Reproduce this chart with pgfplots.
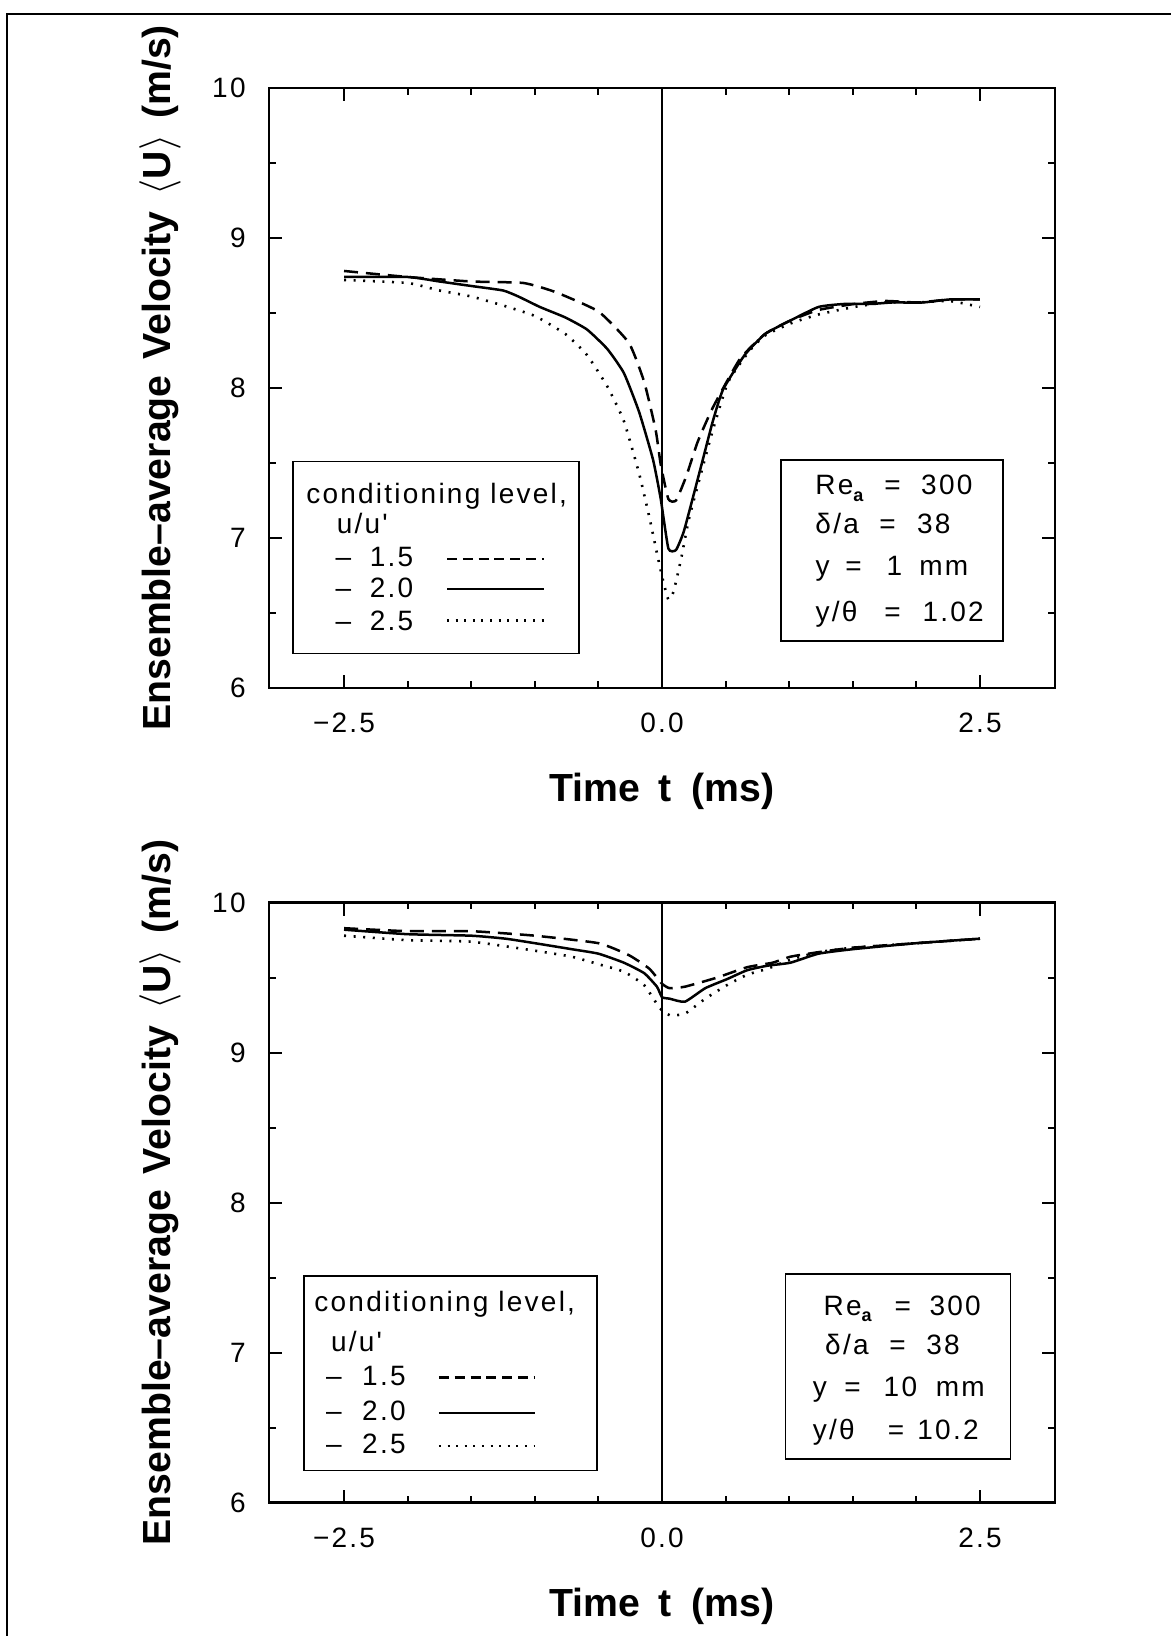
\documentclass[border=0pt]{standalone}
\usepackage{pgfplots}
\pgfplotsset{compat=1.18}
\usepackage{fontspec}
\setmainfont{Liberation Sans}
\newfontfamily\spaced[LetterSpace=8]{Liberation Sans}
\newcommand\tfont{\fontsize{14}{16}\selectfont\spaced}
\newcommand\lfont{\fontsize{19.6}{22}\selectfont\bfseries}
\newcommand\Rea{Re\raisebox{-3.4pt}{\fontsize{9}{9}\selectfont\bfseries a}}

\pgfplotsset{
  velax/.style={
    scale only axis, width=393pt, height=300pt, anchor=south west,
    xmin=-3.09, xmax=3.09, ymin=6, ymax=10,
    xtick={-2.5,0,2.5}, xticklabels={−2.5,0.0,2.5},
    minor xtick={-2,-1.5,-1,-0.5,0.5,1,1.5,2},
    ytick={6,7,8,9,10}, yticklabels={6,7,8,9,10},
    minor ytick={6.5,7.5,8.5,9.5},
    major tick length=6.5pt, minor tick length=3.3pt,
    tick style={black, line width=1pt},
    axis line style={line width=1.4pt},
    tick label style={font=\tfont},
    xticklabel style={anchor=north, inner sep=0pt, yshift=-12.5pt},
    yticklabel style={anchor=east, inner sep=0pt, xshift=-11.5pt},
    xlabel={Time\hspace{9pt}t\hspace{10pt}(ms)},
    ylabel={Ensemble–average\hspace{8pt}Velocity\hspace{8pt}$\langle$U$\rangle$\hspace{8pt}(m/s)},
    xlabel style={at={(axis description cs:0.5,-0.1895)}, anchor=base, font=\lfont},
    ylabel style={at={(axis description cs:-0.1256,0.517)}, anchor=base, font=\lfont},
  },
  dashedc/.style={black, line width=1.25pt, dash pattern=on 7pt off 4pt, smooth, tension=0.3},
  solidc/.style={black, line width=1.25pt, smooth, tension=0.3},
  dottedc/.style={black, line width=1.3pt, dash pattern=on 1pt off 3.8pt, smooth, tension=0.3},
}
\tikzset{
  boxst/.style={draw=black, fill=white, line width=0.85pt},
  txt/.style={anchor=base west, inner sep=0pt, font=\tfont},
  dsample/.style={black, line width=1.1pt, dash pattern=on 5pt off 2.9pt},
  ssample/.style={black, line width=1.1pt},
  osample/.style={black, line width=1.1pt, dash pattern=on 1pt off 3.3pt},
}

\begin{document}
\begin{tikzpicture}
\useasboundingbox (0,0) rectangle (585.5pt,818pt);
\draw[line width=1.35pt] (3.5pt,0) -- (3.5pt,811pt) -- (585.5pt,811pt);

% upper panel: y = 1 mm
\begin{axis}[velax, at={(134.5pt,474pt)}]
\addplot[black, line width=1pt] coordinates {(0,6) (0,10)};
\addplot[dashedc] coordinates {
(-2.5,8.78) (-2.0,8.74) (-1.5,8.71) (-1.09,8.70) (-0.84,8.64) (-0.5,8.51)
(-0.26,8.30) (-0.14,8.04) (-0.05,7.72) (-0.01,7.49) (0.05,7.26) (0.11,7.25)
(0.19,7.41) (0.28,7.64) (0.40,7.87) (0.61,8.19) (0.81,8.36) (1.01,8.45)
(1.23,8.52) (1.51,8.56) (1.76,8.58) (2.01,8.57) (2.26,8.59) (2.5,8.59)};
\addplot[solidc] coordinates {
(-2.5,8.74) (-2.0,8.74) (-1.75,8.71) (-1.5,8.68) (-1.25,8.65) (-1.13,8.61)
(-0.96,8.54) (-0.76,8.47) (-0.59,8.39) (-0.43,8.26) (-0.30,8.10) (-0.18,7.84)
(-0.07,7.52) (-0.01,7.26) (0.05,6.93) (0.11,6.92) (0.17,7.04) (0.24,7.26)
(0.32,7.52) (0.40,7.78) (0.48,7.99) (0.65,8.22) (0.81,8.36) (1.01,8.45)
(1.23,8.54) (1.43,8.56) (1.64,8.56) (1.81,8.57) (2.05,8.57) (2.26,8.59) (2.5,8.59)};
\addplot[dottedc] coordinates {
(-2.5,8.72) (-2.0,8.70) (-1.75,8.65) (-1.5,8.61) (-1.25,8.55) (-1.0,8.48)
(-0.76,8.36) (-0.59,8.22) (-0.43,8.01) (-0.30,7.78) (-0.18,7.43) (-0.10,7.14)
(-0.03,6.86) (0.01,6.71) (0.05,6.59) (0.09,6.64) (0.15,6.86) (0.21,7.12)
(0.30,7.41) (0.40,7.72) (0.52,8.04) (0.69,8.25) (0.81,8.35) (1.01,8.43)
(1.23,8.49) (1.51,8.54) (1.76,8.57) (2.01,8.57) (2.26,8.58) (2.5,8.54)};
% legend box
\draw[boxst] (axis cs:-2.90,6.23) rectangle (axis cs:-0.65,7.51);
\node[txt] at (axis cs:-2.80,7.23) {conditioning level,};
\node[txt] at (axis cs:-2.56,7.03) {u/u'};
\node[txt] at (axis cs:-2.57,6.81) {–};
\node[txt] at (axis cs:-2.30,6.81) {1.5};
\node[txt] at (axis cs:-2.57,6.60) {–};
\node[txt] at (axis cs:-2.30,6.60) {2.0};
\node[txt] at (axis cs:-2.57,6.38) {–};
\node[txt] at (axis cs:-2.30,6.38) {2.5};
\draw[dsample] (axis cs:-1.69,6.86) -- (axis cs:-0.93,6.86);
\draw[ssample] (axis cs:-1.69,6.66) -- (axis cs:-0.93,6.66);
\draw[osample] (axis cs:-1.69,6.45) -- (axis cs:-0.93,6.45);
% parameter box
\draw[boxst] (axis cs:0.933,6.313) rectangle (axis cs:2.683,7.52);
\node[txt] at (axis cs:1.203,7.287) {\Rea};
\node[txt] at (axis cs:1.745,7.287) {=};
\node[txt] at (axis cs:2.035,7.287) {300};
\node[txt] at (axis cs:1.203,7.027) {δ/a};
\node[txt] at (axis cs:1.706,7.027) {=};
\node[txt] at (axis cs:2.003,7.027) {38};
\node[txt] at (axis cs:1.205,6.753) {y};
\node[txt] at (axis cs:1.438,6.753) {=};
\node[txt] at (axis cs:1.762,6.753) {1};
\node[txt] at (axis cs:2.02,6.753) {mm};
\node[txt] at (axis cs:1.205,6.44) {y/θ};
\node[txt] at (axis cs:1.745,6.44) {=};
\node[txt] at (axis cs:2.045,6.44) {1.02};
\end{axis}

% lower panel: y = 10 mm
\begin{axis}[velax, at={(134.5pt,66.65pt)}]
\addplot[black, line width=1pt] coordinates {(0,6) (0,10)};
\addplot[dashedc] coordinates {
(-2.5,9.83) (-2.0,9.81) (-1.5,9.81) (-1.0,9.78) (-0.5,9.73) (-0.26,9.65)
(-0.10,9.56) (0.0,9.46) (0.06,9.43) (0.18,9.44) (0.43,9.50) (0.67,9.57)
(0.87,9.60) (1.01,9.64) (1.23,9.67) (1.5,9.70) (2.0,9.73) (2.5,9.76)};
\addplot[solidc] coordinates {
(-2.5,9.82) (-2.0,9.79) (-1.5,9.78) (-1.23,9.76) (-1.0,9.73) (-0.71,9.69)
(-0.5,9.66) (-0.30,9.60) (-0.14,9.53) (-0.04,9.44) (0.0,9.37) (0.06,9.36)
(0.18,9.34) (0.34,9.43) (0.51,9.49) (0.67,9.55) (0.83,9.58) (1.01,9.60)
(1.23,9.66) (1.5,9.69) (2.0,9.73) (2.5,9.76)};
\addplot[dottedc] coordinates {
(-2.5,9.78) (-2.0,9.75) (-1.5,9.74) (-1.0,9.68) (-0.71,9.64) (-0.5,9.59)
(-0.30,9.54) (-0.14,9.45) (-0.02,9.30) (0.06,9.25) (0.18,9.26) (0.34,9.36)
(0.51,9.45) (0.67,9.52) (0.83,9.56) (1.01,9.62) (1.23,9.67) (1.5,9.70)
(2.0,9.73) (2.5,9.76)};
% legend box
\draw[boxst] (axis cs:-2.814,6.215) rectangle (axis cs:-0.51,7.51);
\node[txt] at (axis cs:-2.736,7.275) {conditioning level,};
\node[txt] at (axis cs:-2.605,7.007) {u/u'};
\node[txt] at (axis cs:-2.644,6.78) {–};
\node[txt] at (axis cs:-2.36,6.78) {1.5};
\node[txt] at (axis cs:-2.644,6.55) {–};
\node[txt] at (axis cs:-2.36,6.55) {2.0};
\node[txt] at (axis cs:-2.644,6.33) {–};
\node[txt] at (axis cs:-2.36,6.33) {2.5};
\draw[dsample] (axis cs:-1.754,6.835) -- (axis cs:-1.0,6.835);
\draw[ssample] (axis cs:-1.754,6.60) -- (axis cs:-1.0,6.60);
\draw[osample] (axis cs:-1.754,6.38) -- (axis cs:-1.0,6.38);
% parameter box
\draw[boxst] (axis cs:0.97,6.29) rectangle (axis cs:2.74,7.523);
\node[txt] at (axis cs:1.267,7.25) {\Rea};
\node[txt] at (axis cs:1.825,7.25) {=};
\node[txt] at (axis cs:2.10,7.25) {300};
\node[txt] at (axis cs:1.28,6.99) {δ/a};
\node[txt] at (axis cs:1.785,6.99) {=};
\node[txt] at (axis cs:2.075,6.99) {38};
\node[txt] at (axis cs:1.183,6.71) {y};
\node[txt] at (axis cs:1.43,6.71) {=};
\node[txt] at (axis cs:1.74,6.71) {10};
\node[txt] at (axis cs:2.15,6.71) {mm};
\node[txt] at (axis cs:1.183,6.42) {y/θ};
\node[txt] at (axis cs:1.772,6.42) {=};
\node[txt] at (axis cs:2.005,6.42) {10.2};
\end{axis}
\end{tikzpicture}
\end{document}
